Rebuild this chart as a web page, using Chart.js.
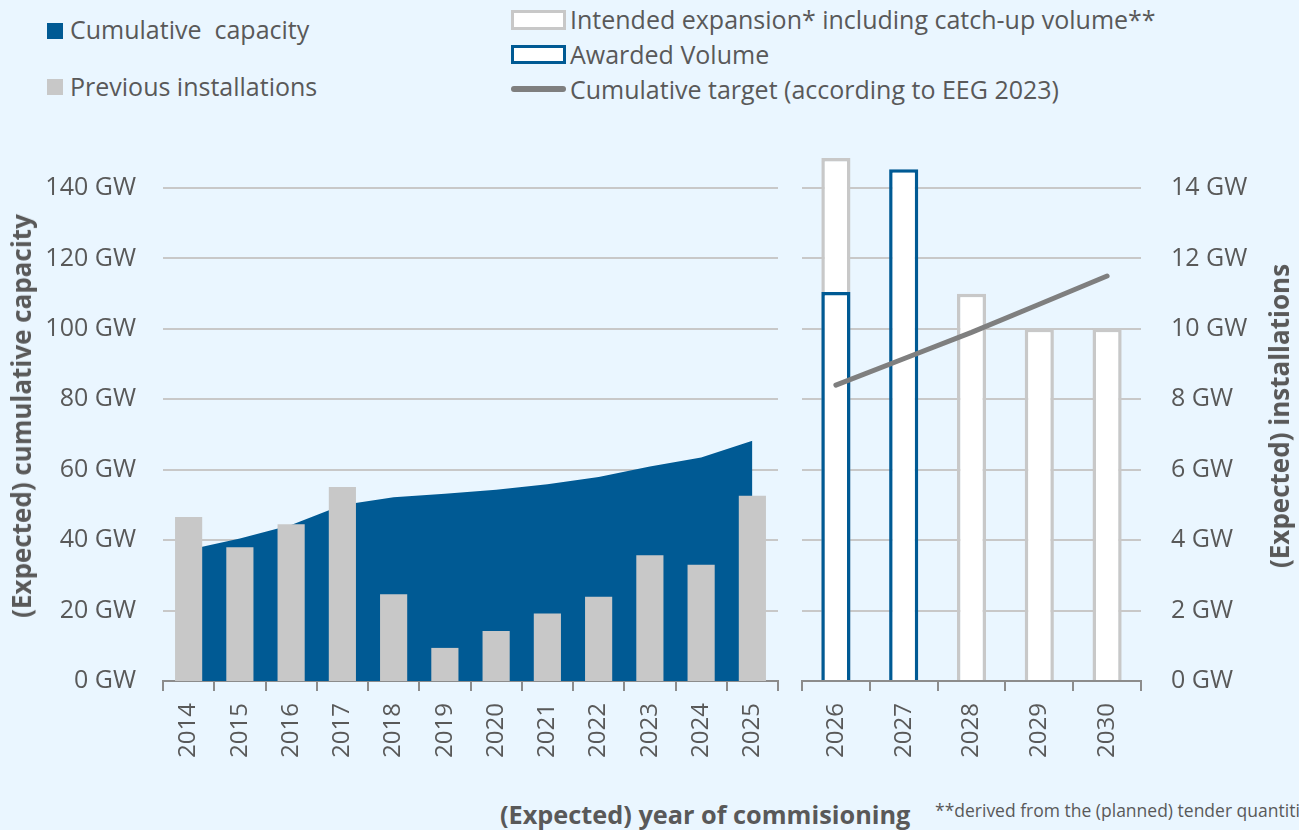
<!doctype html>
<html lang="en">
  <head>
    <meta charset="utf-8">
    <title>Onshore wind: capacity and installations</title>
    <script src="https://cdn.jsdelivr.net/npm/chart.js"></script>
    <style>
      body { margin: 0; width: 1299px; height: 830px; overflow: hidden; position: relative;
             background: #eaf6ff; font-family: 'Open Sans', sans-serif; color: #595959; }
      .abs { position: absolute; white-space: pre; }
      .leg { font-size: 25px; line-height: 30px; }
      .swatch { position: absolute; box-sizing: border-box; }
      .axis-title { position: absolute; white-space: nowrap; font-weight: bold; font-size: 26px;
                    transform: translate(-50%, -50%) rotate(-90deg); }
      canvas { position: absolute; top: 0; }
    </style>
  </head>

  <body>

    <!-- legend, left block -->
    <div class="swatch" style="left:47px; top:23px; width:16px; height:16px; background:#005a94;"></div>
    <div class="abs leg" style="left:70px; top:14px;">Cumulative  capacity</div>
    <div class="swatch" style="left:47px; top:79px; width:16px; height:16px; background:#c8c8c8;"></div>
    <div class="abs leg" style="left:70px; top:71px;">Previous installations</div>

    <!-- legend, right block -->
    <div class="swatch" style="left:511px; top:10px; width:55px; height:20px; background:#fff; border:3.5px solid #c8c8c8;"></div>
    <div class="abs leg" style="left:570px; top:4px;">Intended expansion* including catch-up volume**</div>
    <div class="swatch" style="left:511px; top:45px; width:55px; height:19px; background:#fff; border:3.5px solid #005a94;"></div>
    <div class="abs leg" style="left:570px; top:39px;">Awarded Volume</div>
    <div class="swatch" style="left:511px; top:86px; width:55px; height:6px; background:#7f7f7f; border-radius:3px;"></div>
    <div class="abs leg" style="left:570px; top:74px;">Cumulative target (according to EEG 2023)</div>

    <canvas id="pastChart" width="790" height="780" style="left:0px;"></canvas>
    <canvas id="futureChart" width="509" height="780" style="left:790px;"></canvas>

    <div class="axis-title" style="left:21px; top:416px;">(Expected) cumulative capacity</div>
    <div class="axis-title" style="left:1279px; top:416px;">(Expected) installations</div>

    <div class="abs" style="left:500px; top:797px; font-size:25.3px; font-weight:bold;">(Expected) year of commisioning</div>
    <div class="abs" style="left:935px; top:798px; font-size:17.5px;">**derived from the (planned) tender quantities</div>

    <script>
  // values
  const pastYears = ['2014', '2015', '2016', '2017', '2018', '2019', '2020', '2021', '2022', '2023', '2024', '2025'];
  const cumulativeCapacity = [37.3, 40.5, 44.3, 50.0, 52.2, 53.2, 54.3, 55.9, 57.9, 60.9, 63.5, 68.2];   // GW, left axis
  const previousInstallations = [4.66, 3.80, 4.45, 5.51, 2.46, 0.94, 1.42, 1.92, 2.39, 3.57, 3.30, 5.26]; // GW, right axis

  const futureYears = ['2026', '2027', '2028', '2029', '2030'];
  const intendedExpansion = [14.85, null, 11.0, 10.0, 10.0];  // GW, right axis
  const awardedVolume = [11.05, 14.53, null, null, null];     // GW, right axis
  const cumulativeTarget = [84, 91.5, 99, 107, 115];          // GW, left axis

  const textGrey = '#595959';
  const gridGrey = '#c8c8c8';
  const axisGrey = '#8c8c8c';
  const blue = '#005a94';

  const yTickFont = { family: 'Open Sans', size: 25 };
  const xTickFont = { family: 'Open Sans', size: 24 };

  // bottom axis, same for both panels
  function yearAxis() {
    return {
      offset: true,
      grid: { display: true, drawOnChartArea: false, drawTicks: true, tickLength: 10,
              color: axisGrey, lineWidth: 2, offset: true },
      border: { display: true, color: axisGrey, width: 2 },
      ticks: { color: textGrey, font: xTickFont, minRotation: 90, maxRotation: 90,
               autoSkip: false, padding: 12 },
      afterFit(scale) {
        scale.height = 99;
        // labels stay inside the categories, no extra side room needed
        scale.paddingLeft = 0;
        scale.paddingRight = 0;
      }
    };
  }

  function gwAxis(max, step, position, padding, width) {
    return {
      position: position,
      min: 0, max: max,
      ticks: { stepSize: step, padding: padding, color: textGrey, font: yTickFont,
               callback: v => v + ' GW' },
      grid: { color: gridGrey, lineWidth: 2, drawTicks: false },
      border: { display: false },
      afterFit(scale) { scale.width = width; }
    };
  }

  const commonPlugins = { legend: { display: false }, tooltip: { enabled: false } };

  // left panel: history up to 2025
  new Chart(document.getElementById('pastChart'), {
    type: 'bar',
    data: {
      labels: pastYears,
      datasets: [
        {
          label: 'Previous installations',
          data: previousInstallations,
          yAxisID: 'y1',
          backgroundColor: gridGrey,
          barPercentage: 0.53,
          categoryPercentage: 1,
          order: 0
        },
        {
          type: 'line',
          label: 'Cumulative capacity',
          data: cumulativeCapacity,
          yAxisID: 'y',
          fill: 'origin',
          backgroundColor: blue,
          borderWidth: 0,
          pointRadius: 0,
          tension: 0,
          order: 1
        }
      ]
    },
    options: {
      responsive: false,
      animation: false,
      layout: { padding: { top: 188, right: 12, left: 0, bottom: 0 } },
      scales: {
        x: yearAxis(),
        y: gwAxis(140, 20, 'left', 27, 163),
        y1: { display: false, min: 0, max: 14 }
      },
      plugins: commonPlugins
    }
  });

  // right panel: 2026 to 2030 (the tallest bars rise above the top gridline)
  new Chart(document.getElementById('futureChart'), {
    type: 'bar',
    data: {
      labels: futureYears,
      datasets: [
        {
          type: 'line',
          label: 'Cumulative target (according to EEG 2023)',
          data: cumulativeTarget,
          yAxisID: 'y',
          borderColor: '#7f7f7f',
          borderWidth: 5,
          borderCapStyle: 'round',
          pointRadius: 0,
          fill: false,
          order: 0
        },
        {
          label: 'Awarded Volume',
          data: awardedVolume,
          yAxisID: 'y1',
          backgroundColor: '#ffffff',
          borderColor: blue,
          borderWidth: 3.5,
          grouped: false,
          barPercentage: 0.43,
          categoryPercentage: 1,
          clip: false,
          order: 1
        },
        {
          label: 'Intended expansion* including catch-up volume**',
          data: intendedExpansion,
          yAxisID: 'y1',
          backgroundColor: '#ffffff',
          borderColor: gridGrey,
          borderWidth: 3.5,
          grouped: false,
          barPercentage: 0.43,
          categoryPercentage: 1,
          clip: false,
          order: 2
        }
      ]
    },
    options: {
      responsive: false,
      animation: false,
      layout: { padding: { top: 188, right: 0, left: 12, bottom: 0 } },
      scales: {
        x: yearAxis(),
        y: { display: false, min: 0, max: 140 },
        y1: gwAxis(14, 2, 'right', 30, 158)
      },
      plugins: commonPlugins
    }
  });
    </script>

  </body>
</html>
